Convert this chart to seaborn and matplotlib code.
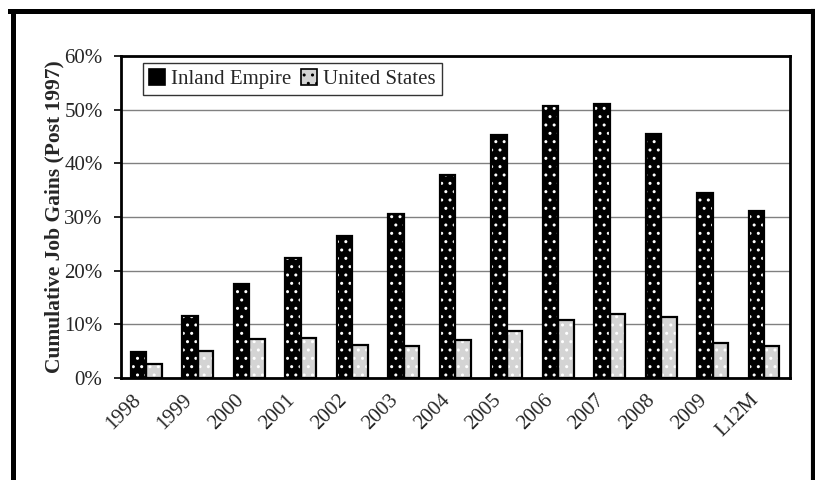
import pandas as pd
import matplotlib.pyplot as plt
import matplotlib.patches as mpatches
import matplotlib.lines as mlines
import matplotlib.transforms as mtransforms
from matplotlib.ticker import FixedLocator, PercentFormatter
import seaborn as sns

years = ['1998', '1999', '2000', '2001', '2002', '2003', '2004',
         '2005', '2006', '2007', '2008', '2009', 'L12M']
inland_empire = [4.8, 11.5, 17.5, 22.3, 26.5, 30.6, 37.8, 45.2, 50.6, 51.0, 45.4, 34.5, 31.2]
united_states = [2.6, 5.1, 7.3, 7.4, 6.1, 5.9, 7.0, 8.8, 10.8, 12.0, 11.3, 6.6, 5.9]
series = ['Inland Empire', 'United States']

df = pd.DataFrame({'year': years * 2,
                   'gain': inland_empire + united_states,
                   'region': [series[0]] * len(years) + [series[1]] * len(years)})

sns.set_style('white')
plt.rcParams['font.family'] = ['Liberation Serif', 'DejaVu Serif']

fig = plt.figure(figsize=(8.15, 4.8), dpi=100)
ax = fig.add_axes([0.148, 0.2125, 0.821, 0.671])

colors = {'Inland Empire': 'black', 'United States': '#d4d4d4'}
sns.barplot(data=df, x='year', y='gain', hue='region', palette=colors,
            width=0.6, saturation=1, ax=ax, legend=False, zorder=3)

# white dotted hatch on top of each bar, then a black outline
for p in list(ax.patches):
    p.set_edgecolor('white')
    p.set_linewidth(0)
    p.set_hatch('..')
    ax.add_patch(mpatches.Rectangle(p.get_xy(), p.get_width(), p.get_height(),
                                    fill=False, edgecolor='black', linewidth=1.6, zorder=4))

ax.set_ylim(0, 60)
ax.set_xlim(-0.5, len(years) - 0.5)
ax.yaxis.set_major_locator(FixedLocator([0, 10, 20, 30, 40, 50, 60]))
ax.yaxis.set_major_formatter(PercentFormatter(decimals=0))
ax.grid(axis='y', color='#808080', linewidth=1, zorder=0)
ax.grid(axis='x', visible=False)

ax.set_xticks(range(len(years)))
ax.set_xticks([i - 0.5 for i in range(len(years) + 1)], minor=True)
ax.tick_params(axis='x', which='major', length=0, pad=9)
ax.tick_params(axis='x', which='minor', length=5, width=1.2, color='black', direction='out')
ax.tick_params(axis='y', length=5, width=1.2, color='black', direction='out',
               labelsize=15, left=True, pad=8)
ax.set_xticklabels(years, rotation=45, ha='right', rotation_mode='anchor', fontsize=15)
# nudge the slanted labels left (after tick_params, which resets transforms)
shift = mtransforms.ScaledTranslation(-15 / 100, 0, fig.dpi_scale_trans)
for lab in ax.get_xticklabels():
    lab.set_transform(lab.get_transform() + shift)

ax.set_xlabel('')
ax.set_ylabel('Cumulative Job Gains (Post 1997)', fontsize=15.5, fontweight='bold', labelpad=0)

for s in ax.spines.values():
    s.set_visible(True)
    s.set_color('black')
    s.set_linewidth(2)
    s.set_zorder(5)

handles = [mpatches.Patch(facecolor=colors[s], edgecolor='black', linewidth=1.2, hatch='..') for s in series]
leg = ax.legend(handles, series, loc='upper left', bbox_to_anchor=(0.033, 0.978),
                borderaxespad=0, fontsize=15, frameon=True, fancybox=False, edgecolor='black',
                handlelength=0.75, handleheight=0.75, handletextpad=0.3,
                columnspacing=0.5, ncol=2, borderpad=0.3)
leg.get_frame().set_linewidth(1)
leg.set_zorder(6)

# border round the picture: left, top and right sides (bottom is cut off)
W, H = 815, 480
for xs, ys, lw in [((12.5, 12.5), (10.5, 490), 3.6),
                   ((10, 816), (10.5, 10.5), 3.6),
                   ((813, 813), (10.5, 490), 3.0)]:
    fig.add_artist(mlines.Line2D([x / W for x in xs], [1 - y / H for y in ys],
                                 transform=fig.transFigure, color='black', linewidth=lw,
                                 solid_capstyle='projecting'))

fig.savefig('out.png', dpi=100)
